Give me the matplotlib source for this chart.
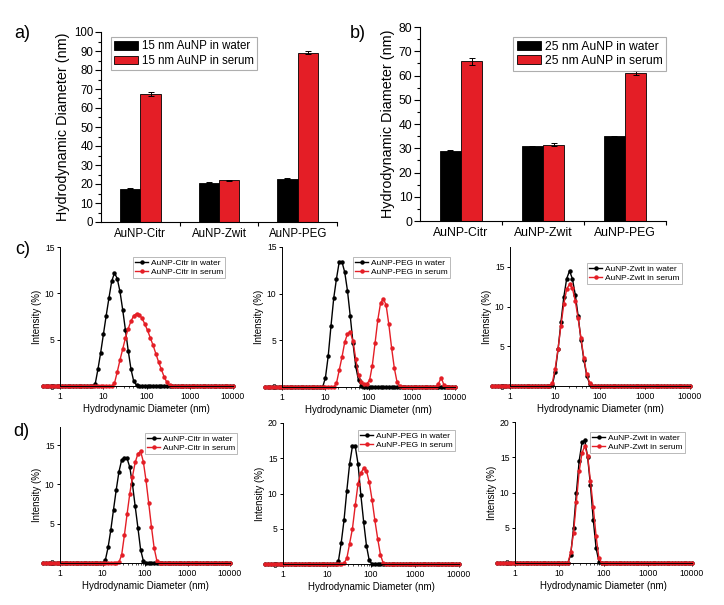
import numpy as np
import matplotlib
matplotlib.use('Agg')
import matplotlib.pyplot as plt
from matplotlib.ticker import MultipleLocator, LogLocator, FuncFormatter, NullFormatter, FixedLocator

plt.rcParams['font.family'] = ['Liberation Sans', 'DejaVu Sans']

# ---------------- data: bar panels ----------------
coatings = ['AuNP-Citr', 'AuNP-Zwit', 'AuNP-PEG']
a_water = [17.5, 20.7, 22.8]
a_water_err = [0.3, 0.2, 0.2]
a_serum = [67.5, 22.0, 89.0]
a_serum_err = [1.0, 0.3, 0.8]
b_water = [29.0, 30.8, 35.0]
b_water_err = [0.2, 0.2, 0.2]
b_serum = [65.8, 31.5, 61.0]
b_serum_err = [1.5, 0.7, 0.8]

# ---------------- data: DLS intensity distributions ----------------
# instrument size classes (nm): 70 log-spaced bins 0.4 - 10000 nm
size_bins = np.logspace(np.log10(0.4), 4, 70)
# each distribution: first non-zero bin index and intensities (%)
c_citr_water_start = 19
c_citr_water = [0.2, 1.8, 3.6, 5.6, 7.6, 9.5, 11.3, 12.2, 11.6, 10.2, 8.2, 6.0, 3.8, 1.8, 0.5, 0.1]
c_citr_serum_start = 26
c_citr_serum = [0.3, 1.5, 2.8, 4.0, 5.2, 6.2, 7.0, 7.6, 7.8, 7.7, 7.3, 6.7, 6.0, 5.2, 4.4, 3.5,
                2.6, 1.8, 1.0, 0.4, 0.1]
c_peg_water_start = 22
c_peg_water = [1.0, 3.3, 6.5, 9.5, 11.6, 13.4, 13.4, 12.3, 10.3, 7.6, 4.7, 2.2, 0.7, 0.15]
c_peg_serum_start = 26
c_peg_serum = [0.4, 1.8, 3.2, 4.8, 5.7, 5.9, 4.9, 3.0, 1.3, 0.5, 0.3, 0.35, 0.7, 2.3, 4.7, 7.2,
               9.0, 9.45, 8.8, 6.7, 4.2, 2.0, 0.5, 0.1, 0, 0, 0, 0, 0, 0, 0, 0, 0, 0, 0, 0,
               0, 0.35, 1.0, 0.2]
c_zwit_water_start = 21
c_zwit_water = [0.1, 1.8, 4.6, 8.0, 11.2, 13.5, 14.5, 13.5, 11.5, 8.8, 5.8, 3.3, 1.3, 0.3]
c_zwit_serum_start = 21
c_zwit_serum = [0.4, 2.2, 4.7, 7.6, 10.3, 12.2, 12.8, 12.3, 10.7, 8.5, 6.0, 3.5, 1.5, 0.4]

d_citr_water_start = 23
d_citr_water = [0.4, 2.0, 4.2, 6.8, 9.3, 11.6, 13.1, 13.4, 13.3, 12.2, 10.0, 7.2, 4.5, 1.7, 0.3]
d_citr_serum_start = 28
d_citr_serum = [0.1, 1.0, 3.5, 6.2, 8.8, 11.0, 12.8, 13.9, 14.2, 12.9, 10.5, 7.6, 4.6, 1.9, 0.3]
d_peg_water_start = 26
d_peg_water = [0.4, 3.0, 6.2, 10.4, 14.2, 16.7, 16.7, 14.2, 9.8, 6.0, 2.6, 0.5]
d_peg_serum_start = 28
d_peg_serum = [0.1, 0.8, 2.9, 5.0, 8.3, 11.4, 12.9, 13.6, 13.2, 11.6, 9.1, 6.2, 3.6, 1.3, 0.1]
d_zwit_water_start = 26
d_zwit_water = [1.2, 5.0, 9.9, 14.5, 17.1, 17.4, 15.0, 11.0, 6.1, 2.1, 0.2]
d_zwit_serum_start = 26
d_zwit_serum = [1.5, 4.3, 8.7, 13.0, 15.6, 16.6, 15.2, 11.6, 7.9, 3.8, 0.7]

RED = '#E41E26'

W, H = 724, 605
fig = plt.figure(figsize=(W / 100, H / 100), dpi=100)


def add_ax(x0, y0, x1, y1):
    return fig.add_axes([x0 / W, 1 - y1 / H, (x1 - x0) / W, (y1 - y0) / H])


def fig_xy(x, y):
    return (x / W, 1 - y / H)


def full(start, vals):
    arr = np.zeros(len(size_bins))
    arr[start:start + len(vals)] = vals
    return arr


def style_axes(ax, lw=0.8):
    for s in ('top', 'right'):
        ax.spines[s].set_visible(False)
    for s in ('left', 'bottom'):
        ax.spines[s].set_linewidth(lw)


def bar_panel(ax, water, werr, serum, serr, ymax, size_lab, leg_pos, fs_tick, fs_leg):
    x = np.arange(1, len(coatings) + 1)
    w = 0.26
    b1 = ax.bar(x - w / 2, water, w, color='black', edgecolor='black', linewidth=0.6,
                yerr=werr, error_kw=dict(ecolor='black', elinewidth=0.7, capsize=2, capthick=0.7))
    b2 = ax.bar(x + w / 2, serum, w, color=RED, edgecolor='black', linewidth=0.6,
                yerr=serr, error_kw=dict(ecolor='black', elinewidth=0.7, capsize=2, capthick=0.7))
    ax.set_xlim(0.5, 3.5)
    ax.set_ylim(0, ymax)
    ax.set_xticks(x)
    ax.set_xticklabels(coatings, fontsize=fs_tick)
    ax.set_xticks([1.5, 2.5, 3.5], minor=True)
    ax.yaxis.set_major_locator(MultipleLocator(10))
    ax.yaxis.set_minor_locator(MultipleLocator(5))
    ax.tick_params(axis='y', which='major', direction='out', length=4, width=0.8, labelsize=fs_tick, pad=1.5)
    ax.tick_params(axis='y', which='minor', direction='out', length=2, width=0.8)
    ax.tick_params(axis='x', which='major', length=0, pad=4)
    ax.tick_params(axis='x', which='minor', direction='out', length=3, width=0.8)
    ax.set_ylabel('Hydrodynamic Diameter (nm)', fontsize=10.4, labelpad=3)
    style_axes(ax)
    leg = fig.legend([b1, b2], [f'{size_lab} nm AuNP in water', f'{size_lab} nm AuNP in serum'],
                     loc='upper left', bbox_to_anchor=fig_xy(*leg_pos), bbox_transform=fig.transFigure,
                     fontsize=fs_leg, frameon=True, fancybox=False, borderaxespad=0,
                     handlelength=2.0, handleheight=0.75, handletextpad=0.35, labelspacing=0.2,
                     borderpad=0.3)
    leg.get_frame().set_edgecolor('#9a9a9a')
    leg.get_frame().set_linewidth(0.8)


def dls_panel(ax, water, serum, ymax, name, leg_pos):
    ax.plot(size_bins, water, '-o', color='black', lw=1.0, ms=2.2, clip_on=False, label=f'{name} in water')
    ax.plot(size_bins, serum, '-o', color=RED, lw=1.0, ms=2.2, clip_on=False, label=f'{name} in serum')
    ax.set_xscale('log')
    ax.set_xlim(1, 10000)
    ax.set_ylim(0, ymax)
    ax.xaxis.set_major_locator(FixedLocator([1, 10, 100, 1000, 10000]))
    ax.xaxis.set_major_formatter(FuncFormatter(lambda v, p: f'{v:g}'))
    ax.xaxis.set_minor_locator(LogLocator(base=10, subs=np.arange(2, 10)))
    ax.xaxis.set_minor_formatter(NullFormatter())
    ax.yaxis.set_major_locator(MultipleLocator(5))
    ax.tick_params(which='major', direction='out', length=2.5, width=0.7, labelsize=6.2, pad=1.5)
    ax.tick_params(which='minor', direction='out', length=1.2, width=0.5)
    ax.set_xlabel('Hydrodynamic Diameter (nm)', fontsize=7.0, labelpad=2.5)
    ax.set_ylabel('Intensity (%)', fontsize=7.0, labelpad=2)
    style_axes(ax, lw=0.7)
    leg = ax.legend(loc='upper left', bbox_to_anchor=fig_xy(*leg_pos), bbox_transform=fig.transFigure,
                    fontsize=6.0, frameon=True, fancybox=False, borderaxespad=0,
                    handlelength=1.6, handletextpad=0.3, labelspacing=0.15, borderpad=0.25,
                    markerscale=1.0)
    leg.get_frame().set_edgecolor('#9a9a9a')
    leg.get_frame().set_linewidth(0.6)


# ---------------- panel a / b ----------------
ax_a = add_ax(101, 32, 337, 222)
bar_panel(ax_a, a_water, a_water_err, a_serum, a_serum_err, 100, 15, (111, 37), 8.3, 8.3)
ax_b = add_ax(420, 27, 666, 221)
bar_panel(ax_b, b_water, b_water_err, b_serum, b_serum_err, 80, 25, (513, 37), 8.8, 8.7)

# ---------------- panel c ----------------
ax_c1 = add_ax(60, 247, 233, 386)
dls_panel(ax_c1, full(c_citr_water_start, c_citr_water), full(c_citr_serum_start, c_citr_serum),
          15, 'AuNP-Citr', (133, 257))
ax_c2 = add_ax(282, 247, 455, 387)
dls_panel(ax_c2, full(c_peg_water_start, c_peg_water), full(c_peg_serum_start, c_peg_serum),
          15, 'AuNP-PEG', (353, 257))
ax_c3 = add_ax(510, 247, 690, 386)
dls_panel(ax_c3, full(c_zwit_water_start, c_zwit_water), full(c_zwit_serum_start, c_zwit_serum),
          17.5, 'AuNP-Zwit', (587, 263))

# ---------------- panel d ----------------
ax_d1 = add_ax(60, 427, 230, 563)
dls_panel(ax_d1, full(d_citr_water_start, d_citr_water), full(d_citr_serum_start, d_citr_serum),
          17.3, 'AuNP-Citr', (145, 433))
ax_d2 = add_ax(283, 423, 459, 564)
dls_panel(ax_d2, full(d_peg_water_start, d_peg_water), full(d_peg_serum_start, d_peg_serum),
          20, 'AuNP-PEG', (358, 430))
ax_d3 = add_ax(515, 422, 692, 563)
dls_panel(ax_d3, full(d_zwit_water_start, d_zwit_water), full(d_zwit_serum_start, d_zwit_serum),
          20, 'AuNP-Zwit', (590, 432))

# panel letters
for lab, (px, py) in {'a)': (14, 34), 'b)': (350, 34), 'c)': (15, 250), 'd)': (13, 432)}.items():
    fig.text(px / W, 1 - py / H, lab, fontsize=13, ha='left', va='center')

fig.savefig('out.png', dpi=100, facecolor='white')
